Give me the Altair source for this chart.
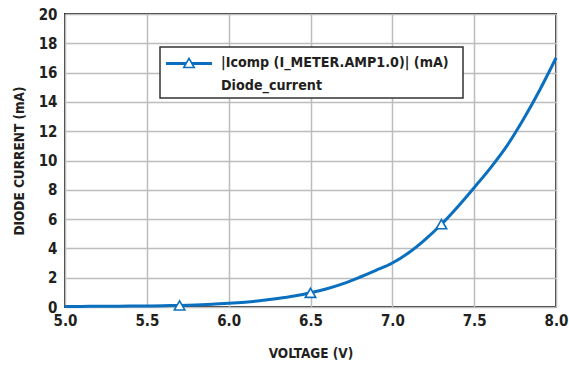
import altair as alt
import pandas as pd

# Diode I-V sweep
voltage = [5.0, 5.1, 5.2, 5.3, 5.4, 5.5, 5.6, 5.7, 5.8, 5.9, 6.0,
           6.1, 6.2, 6.3, 6.4, 6.5, 6.6, 6.7, 6.8, 6.9, 7.0,
           7.1, 7.2, 7.3, 7.4, 7.5, 7.6, 7.7, 7.8, 7.9, 8.0]
current = [0.04, 0.04, 0.05, 0.05, 0.06, 0.07, 0.09, 0.11, 0.14, 0.19, 0.25,
           0.33, 0.44, 0.58, 0.75, 0.97, 1.25, 1.6, 2.03, 2.5, 3.0,
           3.7, 4.6, 5.65, 6.85, 8.15, 9.5, 11.0, 12.8, 14.8, 17.0]

# Marker positions along the curve
marker_v = [5.7, 6.5, 7.3]
marker_i = [0.11, 0.97, 5.65]

x_ticks = [5.0, 5.5, 6.0, 6.5, 7.0, 7.5, 8.0]
y_ticks = [0, 2, 4, 6, 8, 10, 12, 14, 16, 18, 20]

legend_lines = ["|Icomp (I_METER.AMP1.0)| (mA)", "Diode_current"]

BLUE = "#0a6fbf"
INK = "#231f20"
FONT = "DejaVu Sans Condensed, Liberation Sans Narrow, Roboto"

curve = pd.DataFrame({"v": voltage, "i": current})
marks = pd.DataFrame({"v": marker_v, "i": marker_i})

x_enc = alt.X("v:Q", scale=alt.Scale(domain=[5, 8], nice=False),
              axis=alt.Axis(values=x_ticks, tickCount=len(x_ticks), format=".1f",
                            title="VOLTAGE (V)", titlePadding=18,
                            labelFlush=False, labelOverlap=False))
y_enc = alt.Y("i:Q", scale=alt.Scale(domain=[0, 20], nice=False),
              axis=alt.Axis(values=y_ticks, tickCount=len(y_ticks),
                            title="DIODE CURRENT (mA)", titlePadding=12,
                            labelFlush=False, labelOverlap=False))

line = alt.Chart(curve).mark_line(color=BLUE, strokeWidth=3,
                                  interpolate="monotone").encode(x=x_enc, y=y_enc)

points = alt.Chart(marks).mark_point(shape="triangle-up", size=110,
                                     color=BLUE, strokeWidth=1.6,
                                     fill="white", fillOpacity=1).encode(x="v:Q", y="i:Q")

# Legend box in the upper-left part of the plot
one = pd.DataFrame({"a": [0]})
box = alt.Chart(one).mark_rect(
    fill="white", stroke="#333333", strokeWidth=1.5).encode(
    x=alt.value(95), x2=alt.value(398), y=alt.value(33), y2=alt.value(84))
sym_line = alt.Chart(one).mark_rule(
    color=BLUE, strokeWidth=3).encode(
    x=alt.value(101), x2=alt.value(147), y=alt.value(49.5))
sym_pt = alt.Chart(one).mark_point(
    shape="triangle-up", size=110, color=BLUE, strokeWidth=1.6,
    fill="white", fillOpacity=1).encode(x=alt.value(124), y=alt.value(49))


def legend_text(label, ypix):
    return alt.Chart(one).mark_text(
        align="left", baseline="middle", font=FONT, fontSize=14.2,
        fontWeight="bold", color=INK, text=label).encode(
        x=alt.value(156), y=alt.value(ypix))


txt1 = legend_text(legend_lines[0], 49)
txt2 = legend_text(legend_lines[1], 72)

chart = alt.layer(line, points, box, sym_line, sym_pt, txt1, txt2).properties(
    width=491, height=293,
    autosize=alt.AutoSizeParams(type="none"),
    padding={"left": 65, "top": 14, "right": 13, "bottom": 61},
).configure_view(
    stroke="#333333", strokeWidth=2
).configure_axis(
    grid=True, gridColor="#bdbdbd", gridWidth=1.5,
    domain=False, ticks=False,
    labelFont=FONT, labelFontSize=15, labelFontWeight="bold", labelColor=INK,
    titleFont=FONT, titleFontSize=13.5, titleFontWeight="bold", titleColor=INK,
).configure_axisX(labelPadding=6).configure_axisY(labelPadding=8)

chart.save("out.html", embed_options={"renderer": "svg", "actions": False})
